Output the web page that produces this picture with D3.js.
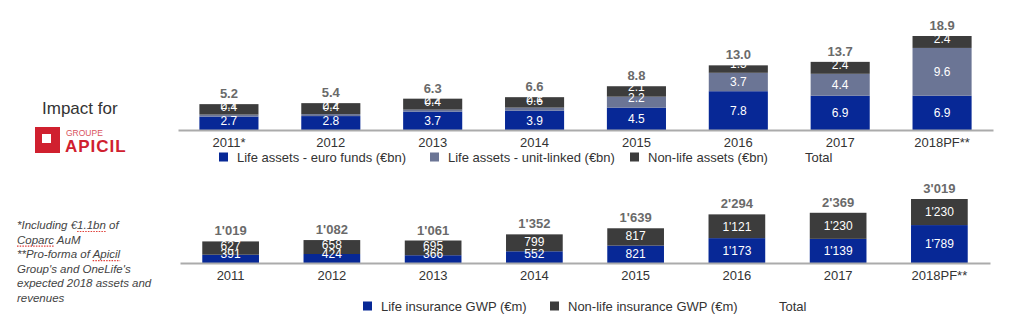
<!DOCTYPE html>
<html>
<head>
<meta charset="utf-8">
<script src="https://cdn.jsdelivr.net/npm/d3@7"></script>
<style>
  body { margin: 0; background: #fff; }
  svg { display: block; font-family: "Liberation Sans", Arial, sans-serif; }
</style>
</head>
<body>
<svg id="chart" width="1024" height="331"></svg>
<script>
// assets (€bn)
var assetYears = ["2011*", "2012", "2013", "2014", "2015", "2016", "2017", "2018PF**"];
var euroFunds = [2.7, 2.8, 3.7, 3.9, 4.5, 7.8, 6.9, 6.9];
var unitLinked = [0.4, 0.4, 0.4, 0.6, 2.2, 3.7, 4.4, 9.6];
var nonLifeAssets = [2.1, 2.2, 2.2, 2.1, 2.1, 1.5, 2.4, 2.4];
var assetTotals = [5.2, 5.4, 6.3, 6.6, 8.8, 13.0, 13.7, 18.9];

// premiums (€m)
var gwpYears = ["2011", "2012", "2013", "2014", "2015", "2016", "2017", "2018PF**"];
var lifeGwp = [391, 424, 366, 552, 821, 1173, 1139, 1789];
var nonLifeGwp = [627, 658, 695, 799, 817, 1121, 1230, 1230];
var gwpTotals = [1019, 1082, 1061, 1352, 1639, 2294, 2369, 3019];

var assetLegend = ["Life assets - euro funds (€bn)", "Life assets - unit-linked (€bn)", "Non-life assets (€bn)", "Total"];
var gwpLegend = ["Life insurance GWP (€m)", "Non-life insurance GWP (€m)", "Total"];

var footnotes = ["*Including €1.1bn of", "Coparc AuM", "**Pro-forma of Apicil", "Group's and OneLife's",
  "expected 2018 assets and", "revenues"];

var BLUE = "#072896", SLATE = "#6b7595", DARK = "#3c3c3c", RED = "#d0202f";

var svg = d3.select("#chart");

var fmtAssets = d3.format(".1f");
var fmtGwp = d3.formatLocale({decimal: ".", thousands: "'", grouping: [3], currency: ["", ""]}).format(",d");

function stackedBars(opt) {
  var g = svg.append("g");
  var keys = opt.series.map(function(s, i) { return "s" + i; });
  var rows = opt.years.map(function(y, i) {
    var r = {year: y, total: opt.totals[i]};
    opt.series.forEach(function(s, k) { r["s" + k] = s[i]; });
    return r;
  });

  var x = d3.scaleBand().domain(opt.years).range(opt.xRange).paddingInner(opt.pad).paddingOuter(opt.pad / 2);
  var y = d3.scaleLinear().domain([0, d3.max(opt.totals)]).range([opt.base, opt.top]);

  var layers = d3.stack().keys(keys)(rows);

  layers.forEach(function(layer, k) {
    g.append("g").selectAll("rect")
      .data(layer)
      .enter().append("rect")
      .attr("x", function(d) { return x(d.data.year); })
      .attr("width", x.bandwidth())
      .attr("y", function(d) { return y(d[1]); })
      .attr("height", function(d) { return y(d[0]) - y(d[1]); })
      .attr("fill", opt.colors[k]);
  });

  // segment values, kept clear of the segment floor
  layers.forEach(function(layer, k) {
    g.append("g").selectAll("text")
      .data(layer)
      .enter().append("text")
      .attr("x", function(d) { return x(d.data.year) + x.bandwidth() / 2; })
      .attr("y", function(d) {
        var mid = (y(d[0]) + y(d[1])) / 2;
        return Math.min(mid, y(d[0]) - 9.5);
      })
      .attr("dy", "0.36em")
      .attr("text-anchor", "middle")
      .attr("fill", "#fff")
      .style("font-size", "12px")
      .text(function(d) { return opt.fmt(d[1] - d[0]); });
  });

  // totals above each bar
  var top = layers[layers.length - 1];
  g.append("g").selectAll("text")
    .data(top)
    .enter().append("text")
    .attr("x", function(d) { return x(d.data.year) + x.bandwidth() / 2; })
    .attr("y", function(d) { return y(d[1]) - 6; })
    .attr("text-anchor", "middle")
    .attr("fill", "#6a6a6a")
    .style("font-size", "13px")
    .style("font-weight", "bold")
    .text(function(d) { return opt.fmt(d.data.total); });

  var axis = g.append("g")
    .attr("transform", "translate(0," + opt.base + ")")
    .call(d3.axisBottom(x).tickSize(0).tickSizeOuter(0).tickPadding(8));
  axis.select(".domain").attr("stroke", "#ababab").attr("stroke-width", 2);
  axis.selectAll("text").attr("fill", "#333").style("font-size", "13px").style("font-family", "Liberation Sans, Arial, sans-serif");

  // legend
  var lg = g.append("g");
  opt.legend.forEach(function(name, i) {
    var lx = opt.legendX[i];
    if (i < opt.colors.length) {
      lg.append("rect").attr("x", lx).attr("y", opt.legendY - 9).attr("width", 9).attr("height", 9).attr("fill", opt.colors[i]);
      lx += 18;
    }
    lg.append("text").attr("x", lx).attr("y", opt.legendY).attr("fill", "#333").style("font-size", "13px").text(name);
  });
}

stackedBars({
  years: assetYears,
  series: [euroFunds, unitLinked, nonLifeAssets],
  totals: assetTotals,
  colors: [BLUE, SLATE, DARK],
  xRange: [178, 993], pad: 0.42,
  base: 130, top: 36,
  fmt: fmtAssets,
  legend: assetLegend,
  legendX: [219, 430, 630, 805],
  legendY: 161.5
});

stackedBars({
  years: gwpYears,
  series: [lifeGwp, nonLifeGwp],
  totals: gwpTotals,
  colors: [BLUE, DARK],
  xRange: [180, 990], pad: 0.44,
  base: 263, top: 199,
  fmt: fmtGwp,
  legend: gwpLegend,
  legendX: [363, 550, 779],
  legendY: 310.5
});

// left side: heading and logo
svg.append("text").attr("x", 42).attr("y", 114).attr("fill", "#333").style("font-size", "17px").text("Impact for");

var logo = svg.append("g");
logo.append("rect").attr("x", 35).attr("y", 127).attr("width", 25).attr("height", 26).attr("fill", RED);
logo.append("rect").attr("x", 42).attr("y", 134).attr("width", 9).attr("height", 9).attr("fill", "#fff");
logo.append("text").attr("x", 66).attr("y", 136).attr("fill", "#d9535c").style("font-size", "8.5px").text("GROUPE");
logo.append("text").attr("x", 65).attr("y", 152).attr("fill", RED).style("font-size", "17px")
  .style("font-weight", "bold").style("letter-spacing", "1px").text("APICIL");

// footnotes with spell-check squiggles
var fn = svg.append("g");
var squiggle = {0: "1.1bn", 1: "Coparc", 2: "Apicil"};
footnotes.forEach(function(line, i) {
  var t = fn.append("text").attr("x", 17).attr("y", 229 + i * 14.6)
    .attr("fill", "#444").style("font-size", "11.5px").style("font-style", "italic").text(line);
  var word = squiggle[i];
  if (word) {
    var node = t.node(), at = line.indexOf(word);
    var x0 = 17 + (at > 0 ? node.getSubStringLength(0, at) : 0);
    var w = node.getSubStringLength(at, word.length);
    fn.append("line").attr("x1", x0).attr("x2", x0 + w)
      .attr("y1", 229 + i * 14.6 + 2.5).attr("y2", 229 + i * 14.6 + 2.5)
      .attr("stroke", "#e0403a").attr("stroke-width", 1.2).attr("stroke-dasharray", "1.5,1.2");
  }
});
</script>
</body>
</html>
